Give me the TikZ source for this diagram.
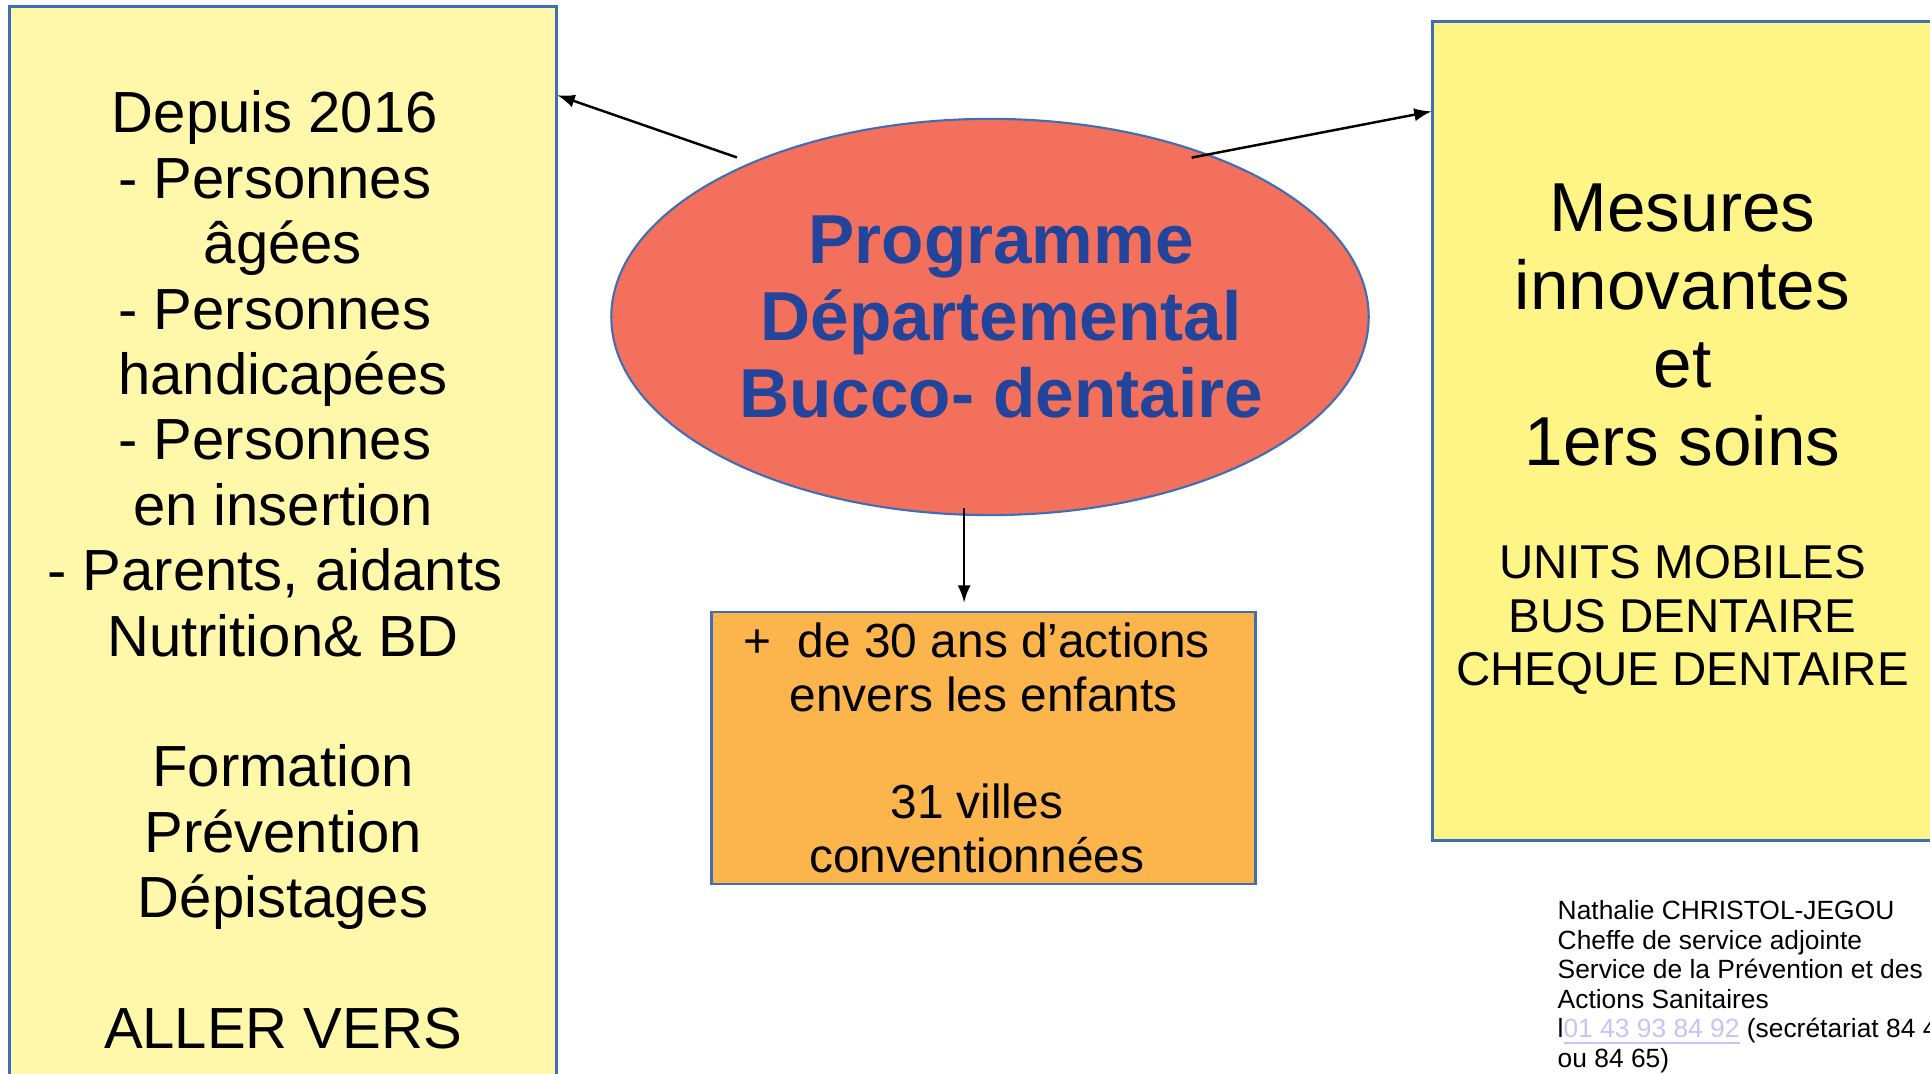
\documentclass[tikz,border=0pt]{standalone}
\usepackage{fontspec}
\setmainfont{Liberation Sans}
\usetikzlibrary{shapes.geometric}

\definecolor{leftyellow}{RGB}{255,248,170}
\definecolor{rightyellow}{RGB}{255,245,135}
\definecolor{salmon}{RGB}{242,112,92}
\definecolor{orangebox}{RGB}{251,181,76}
\definecolor{boxblue}{RGB}{63,110,181}
\definecolor{titleblue}{RGB}{34,68,154}
\definecolor{linkblue}{RGB}{196,196,248}
\newcommand{\tsp}{\hspace*{0.28em}\null}

\begin{document}
\begin{tikzpicture}[x=0.01cm, y=-0.01cm,
  box/.style={draw=boxblue, line width=0.8pt, inner sep=0pt, align=flush center},
  arrow/.style={-latex, line width=0.7pt}]
\useasboundingbox (0,0) rectangle (1930,1074);
\clip (0,0) rectangle (1930,1074);

% les trois cadres
\node[box, fill=leftyellow, minimum width=5.46cm, minimum height=11.26cm, text width=5.4cm,
  font=\fontsize{16.5}{18.6}\selectfont] (publics) at (283,570)
  {Depuis 2016\tsp\\- Personnes\tsp\\âgées\\- Personnes\tsp\\handicapées\\- Personnes\tsp\\en insertion\\- Parents, aidants\tsp\\Nutrition\& BD\\[18.6pt]Formation\\Prévention\\Dépistages\\[18.6pt]ALLER VERS\par};
\node[box, fill=rightyellow, minimum width=4.99cm, minimum height=8.18cm, text width=4.9cm,
  font=\fontsize{19.7}{22.2}\selectfont] (mesures) at (1682.5,431)
  {\rule{0pt}{18.3pt}Mesures\\innovantes\\et\\1ers soins\\[16.9pt]\fontsize{13.5}{15.2}\selectfont UNITS MOBILES\\BUS DENTAIRE\\CHEQUE DENTAIRE\par};
\node[box, fill=orangebox, minimum width=5.44cm, minimum height=2.72cm, text width=5.4cm,
  font=\fontsize{13.6}{15.3}\selectfont] (enfants) at (983.5,748)
  {+\hspace{7.5pt}de 30 ans d’actions\tsp\\envers les enfants\\[15.3pt]31 villes\tsp\\conventionnées\tsp\par};

% le programme
\node[ellipse, draw=boxblue, line width=0.6pt, fill=salmon, minimum width=7.57cm, minimum height=3.96cm,
  inner sep=0pt, inner xsep=-0.1cm, align=center, text=titleblue, font=\bfseries\fontsize{19.7}{22}\selectfont] (prog) at (990,317)
  {\hspace*{0.32em}Programme\\\hspace*{0.32em}Départemental\\\hspace*{0.32em}Bucco- dentaire};

\draw[arrow] ([shift={(-9,-7)}]prog.148) -- ([yshift=-0.9cm]publics.north east);
\draw[arrow] ([shift={(-10,6)}]prog.38) -- ([yshift=-0.91cm]mesures.north west);
\draw[arrow] ([shift={(2,-8)}]prog.262) -- ([shift={(2,-8)}]prog.262 |- enfants.north);

% signature
\node[anchor=north west, inner sep=0pt, align=left, font=\fontsize{7.5}{8.4}\selectfont] (contact) at (1557,900)
  {Nathalie CHRISTOL-JEGOU\\Cheffe de service adjointe\\Service de la Prévention et des\\Actions Sanitaires\\l\textcolor{linkblue}{\underline{01 43 93 84 92}} (secrétariat 84 4\\ou 84 65)};
\end{tikzpicture}
\end{document}
